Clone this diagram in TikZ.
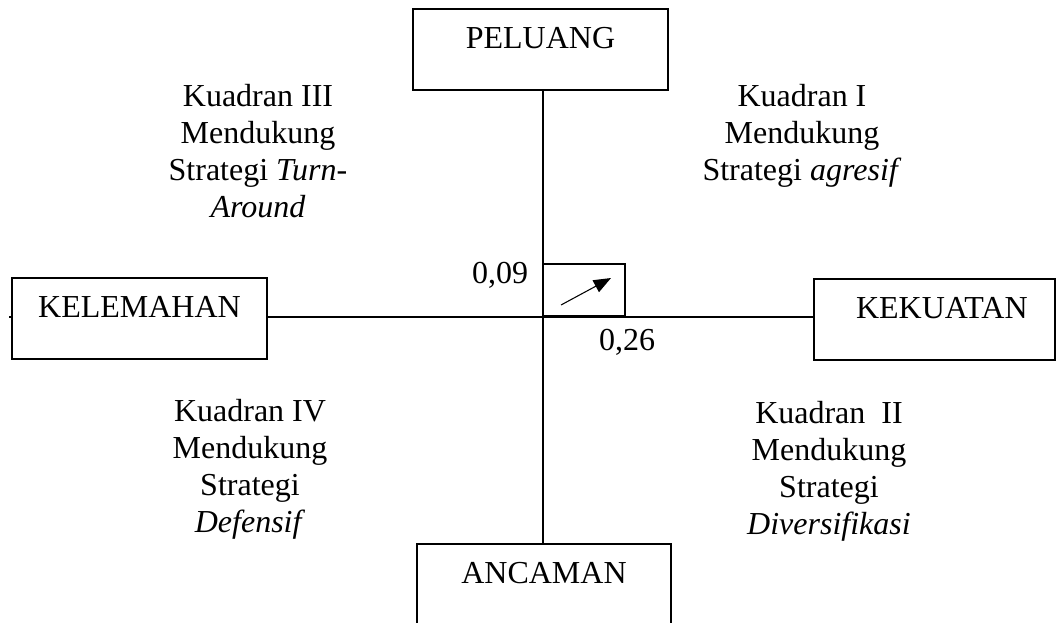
\documentclass[tikz,border=0pt]{standalone}
\usepackage{fontspec}
\setmainfont{Liberation Serif}
\usetikzlibrary{arrows.meta}
\begin{document}
\begin{tikzpicture}[x=0.75pt,y=-0.75pt,
  every node/.style={font=\fontsize{24}{27.75}\selectfont, inner sep=0pt},
  sbox/.style={draw, line width=0.8pt, minimum width=255*0.75pt, text height=39*0.75pt, text depth=42*0.75pt, anchor=base},
  qtext/.style={align=center, anchor=base},
  conn/.style={line width=0.8pt}]
\useasboundingbox (0,0) rectangle (1056,622);
\coordinate (o) at (543,317);
\node[sbox] (pel) at (540.5,48) {PELUANG};
\node[sbox] (kel) at (139.5,317) {KELEMAHAN};
\node[sbox, minimum width=241*0.75pt] (kek) at (934.5,318) {\hspace*{11pt}KEKUATAN};
\node[sbox, minimum width=254*0.75pt] (anc) at (544,583) {ANCAMAN};
\draw[conn] (kel.east |- o) -- (kek.west |- o);
\draw[conn] (kel.west |- o) -- ++(-2,0);
\draw[conn] (pel.south -| o) -- (anc.north -| o);
\node[draw, line width=1.5pt, minimum width=82*0.75pt, minimum height=52*0.75pt, anchor=south west] (q) at (542,317) {};
\coordinate (a1) at (561,305);
\coordinate (a2) at (611,278);
\draw[line width=0.8pt, -{Triangle[length=13pt,width=10pt]}] (a1) -- (a2);
\node[anchor=base] (v1) at (500,283) {0,09};
\node[anchor=base] (v2) at (627,350) {0,26};
\node[qtext] (k3) at (258,217) {Kuadran III\\Mendukung\\Strategi \textit{Turn-}\\\textit{Around}};
\node[qtext] (k1) at (802,180) {Kuadran I\\Mendukung\\Strategi \textit{agresif}};
\node[qtext] (k4) at (250,532) {Kuadran IV\\Mendukung\\Strategi\\\textit{Defensif}};
\node[qtext] (k2) at (829,534) {Kuadran\ \ II\\Mendukung\\Strategi\\\textit{Diversifikasi}};
\end{tikzpicture}
\end{document}
